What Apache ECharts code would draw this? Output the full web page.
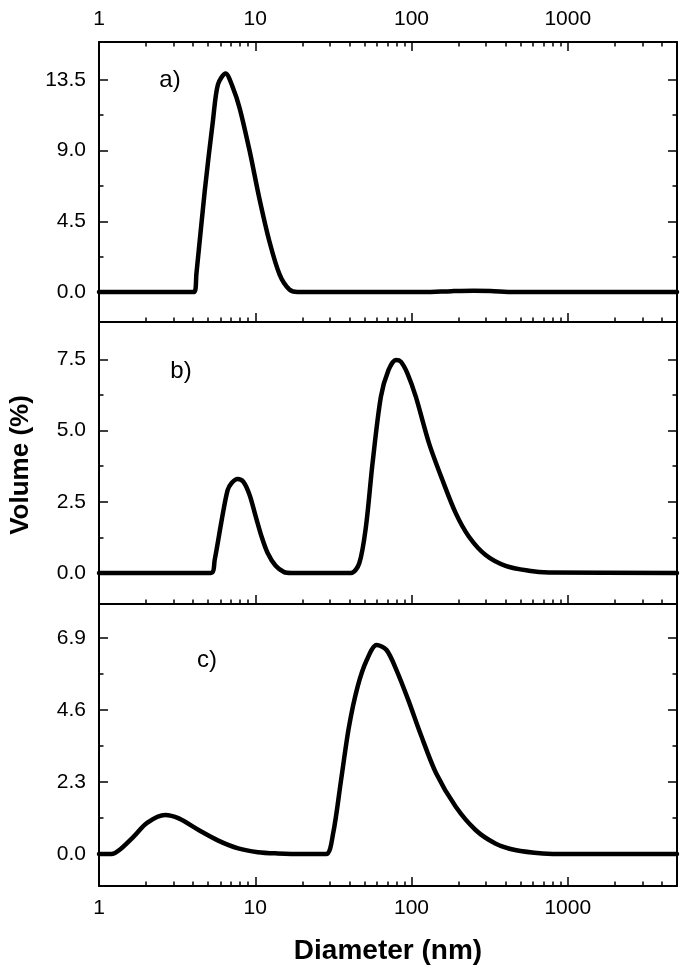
<!DOCTYPE html>
<html>
<head>
<meta charset="utf-8">
<script src="https://cdn.jsdelivr.net/npm/echarts@6/dist/echarts.min.js"></script>
<style>
html,body{margin:0;padding:0;background:#fff;}
#chart{width:685px;height:974px;}
</style>
</head>
<body>
<div id="chart"></div>
<script>
// ---- data ----
const xMajorTicks = [1, 10, 100, 1000];
const xMinorTicks = [2,3,4,5,6,7,8,9,20,30,40,50,60,70,80,90,200,300,400,500,600,700,800,900,2000,3000,4000];

const yTicksA = [0, 4.5, 9.0, 13.5];
const yMinorA = [2.25, 6.75, 11.25];
const yTicksB = [0, 2.5, 5.0, 7.5];
const yMinorB = [1.25, 3.75, 6.25];
const yTicksC = [0, 2.3, 4.6, 6.9];
const yMinorC = [1.15, 3.45, 5.75];

const diamA = [1, 4.06, 4.2, 4.75, 5.36, 5.77, 6.46, 7.19, 7.94, 9.2, 10.6, 12.3, 14.3, 16.5, 18.6, 120, 180, 250, 320, 450, 5000];
const volA  = [0, 0, 1.15, 6.43, 10.9, 13.2, 13.9, 13.0, 11.7, 8.98, 6.0, 3.25, 1.13, 0.17, 0, 0, 0.06, 0.09, 0.07, 0, 0];

const diamB = [1, 5.2, 5.5, 6.1, 6.65, 7.06, 7.71, 8.4, 9.2, 10.0, 11.0, 12.0, 13.5, 15.3, 17, 41.0, 46.3, 51.1, 56.3, 63.7, 71.2, 79.4, 85.4, 94.1, 106.5, 129.5, 157.5, 191.8, 233.2, 298, 400, 563, 755, 5000];
const volB  = [0, 0, 0.46, 1.86, 2.9, 3.16, 3.3, 3.2, 2.74, 2.04, 1.26, 0.70, 0.25, 0.03, 0, 0, 0.34, 1.63, 3.85, 6.19, 7.12, 7.48, 7.42, 7.01, 6.19, 4.55, 3.27, 2.10, 1.27, 0.63, 0.25, 0.08, 0.02, 0];

const diamC = [1, 1.2, 1.35, 1.66, 2.03, 2.65, 3.24, 4.34, 5.8, 7.78, 10.4, 13.9, 20, 28.4, 31.5, 35.4, 39.8, 45.2, 51.7, 59.8, 69.2, 80.1, 95.4, 113.8, 143.7, 192, 257, 344, 460, 692, 1000, 5000];
const volC  = [0, 0, 0.13, 0.55, 1.0, 1.25, 1.14, 0.77, 0.43, 0.18, 0.06, 0.02, 0, 0, 0.66, 2.36, 4.07, 5.35, 6.2, 6.68, 6.52, 5.88, 4.92, 3.86, 2.58, 1.51, 0.77, 0.34, 0.13, 0.02, 0, 0];

const panelLabels = ['a)', 'b)', 'c)'];
const xTitle = 'Diameter (nm)';
const yTitle = 'Volume (%)';

// ---- layout ----
const FONT = '"Liberation Sans", Arial, sans-serif';
const grids = [
  {left: 99, right: 8, top: 42, height: 280},
  {left: 99, right: 8, top: 322, height: 282},
  {left: 99, right: 8, top: 604, height: 282}
];
const yRanges = [[-1.9, 15.9], [-1.09, 8.81], [-1.02, 7.99]];
const yMajor = [yTicksA, yTicksB, yTicksC];
const yMinor = [yMinorA, yMinorB, yMinorC];
const seriesData = [[diamA, volA], [diamB, volB], [diamC, volC]];

const lineStyle = {color: '#000', width: 2};
const xAxes = [], yAxes = [], series = [];

function xAxis(g, pos, ticks, len, showLine, showLabel) {
  return {
    type: 'log', logBase: 10, gridIndex: g, position: pos, min: 1, max: 5000,
    axisLine: {show: showLine, onZero: false, lineStyle: lineStyle},
    axisTick: {show: true, inside: true, length: len, customValues: ticks, lineStyle: {color: '#000', width: 1.5}},
    axisLabel: {show: showLabel, customValues: ticks, margin: 12, color: '#000', fontSize: 21, fontFamily: FONT,
      formatter: v => String(Math.round(v))},
    splitLine: {show: false}, minorTick: {show: false}, minorSplitLine: {show: false}
  };
}
function yAxis(g, pos, ticks, len, showLine, showLabel) {
  return {
    type: 'value', gridIndex: g, position: pos, min: yRanges[g][0], max: yRanges[g][1],
    axisLine: {show: showLine, onZero: false, lineStyle: lineStyle},
    axisTick: {show: true, inside: true, length: len, customValues: ticks, lineStyle: {color: '#000', width: 1.5}},
    axisLabel: {show: showLabel, customValues: ticks, margin: 13, color: '#000', fontSize: 21, fontFamily: FONT,
      formatter: v => Number(v).toFixed(1)},
    splitLine: {show: false}
  };
}

for (let g = 0; g < 3; g++) {
  const xi = xAxes.length;
  xAxes.push(xAxis(g, 'bottom', xMajorTicks, 9, true, g === 2));
  xAxes.push(xAxis(g, 'bottom', xMinorTicks, 4.5, false, false));
  if (g === 0) {
    xAxes.push(xAxis(g, 'top', xMajorTicks, 9, true, true));
    xAxes.push(xAxis(g, 'top', xMinorTicks, 4.5, false, false));
  }
  const yi = yAxes.length;
  yAxes.push(yAxis(g, 'left', yMajor[g], 9, true, true));
  yAxes.push(yAxis(g, 'left', yMinor[g], 4.5, false, false));
  yAxes.push(yAxis(g, 'right', yMajor[g], 9, true, false));
  yAxes.push(yAxis(g, 'right', yMinor[g], 4.5, false, false));
  const [xs, ys] = seriesData[g];
  series.push({
    type: 'line', xAxisIndex: xi, yAxisIndex: yi,
    data: xs.map((x, i) => [x, ys[i]]),
    showSymbol: false, smooth: 0.3,
    lineStyle: {color: '#000', width: 4.5, cap: 'round', join: 'round'},
    itemStyle: {color: '#000'}, silent: true, animation: false, clip: true
  });
}

const graphics = [
  {type: 'text', x: 170, y: 80, style: {text: panelLabels[0], font: '24px ' + FONT, fill: '#000', align: 'center', verticalAlign: 'middle'}},
  {type: 'text', x: 181, y: 371, style: {text: panelLabels[1], font: '24px ' + FONT, fill: '#000', align: 'center', verticalAlign: 'middle'}},
  {type: 'text', x: 207, y: 660, style: {text: panelLabels[2], font: '24px ' + FONT, fill: '#000', align: 'center', verticalAlign: 'middle'}},
  {type: 'text', x: 388, y: 951, style: {text: xTitle, font: 'bold 28px ' + FONT, fill: '#000', align: 'center', verticalAlign: 'middle'}},
  {type: 'text', x: 21, y: 465, rotation: Math.PI / 2, style: {text: yTitle, font: 'bold 26px ' + FONT, fill: '#000', align: 'center', verticalAlign: 'middle'}}
];

const chart = echarts.init(document.getElementById('chart'), null, {renderer: 'canvas'});
chart.setOption({
  animation: false,
  backgroundColor: '#fff',
  grid: grids.map(g => Object.assign({containLabel: false}, g)),
  xAxis: xAxes,
  yAxis: yAxes,
  series: series,
  graphic: graphics
});
</script>
</body>
</html>
